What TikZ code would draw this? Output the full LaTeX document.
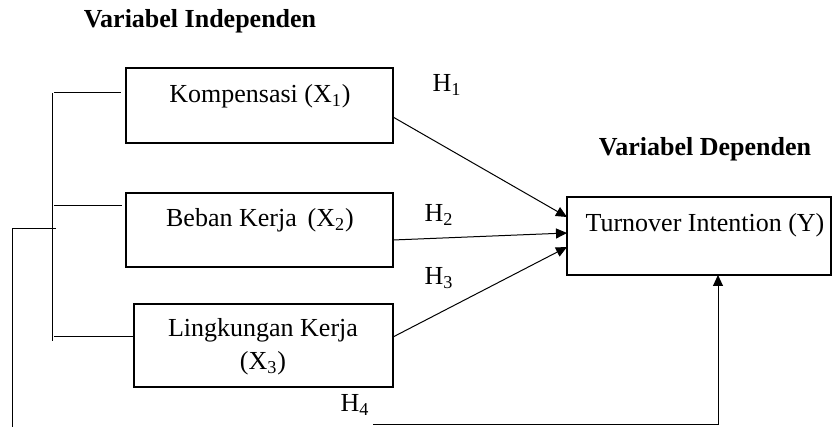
\documentclass[tikz,border=0pt]{standalone}
\usepackage{fontspec}
\setmainfont{Liberation Serif}
\usetikzlibrary{arrows.meta,calc,positioning}

\begin{document}
\begin{tikzpicture}[x=0.5pt,y=-0.5pt,>={Triangle[length=5.5pt,width=5pt]},
  varbox/.style={draw,line width=0.65pt,inner sep=0pt,outer sep=0pt},
  vartext/.style={anchor=base,inner sep=0pt,font=\fontsize{13}{16}\selectfont},
  judul/.style={anchor=base,inner sep=0pt,font=\fontsize{13}{16}\selectfont\bfseries},
  garis/.style={line width=0.5pt}]
  \useasboundingbox (0,0) rectangle (832,427);
  \node[judul] (indep) at (200,28) {Variabel Independen};
  \node[judul] (dep) at (705,156) {Variabel Dependen};
  \node[varbox,minimum width=133.5pt,minimum height=37.5pt] (x1) at (259.5,105.5) {};
  \node[varbox,minimum width=133.5pt,minimum height=37pt] (x2) at (259.5,230) {};
  \node[varbox,minimum width=129.5pt,minimum height=41.5pt] (x3) at (263.5,345.5) {};
  \node[varbox,minimum width=132pt,minimum height=39pt] (y) at (699,236) {};
  \node[vartext] (tx1) at (260,103) {Kompensasi (X\textsubscript{1})};
  \node[vartext] (tx2) at (260,227) {Beban Kerja\, (X\textsubscript{2})};
  \node[vartext] (tx3a) at (263,337) {Lingkungan Kerja};
  \node[vartext] (tx3b) at (263,370) {(X\textsubscript{3})};
  \node[vartext] (ty) at (705,232) {Turnover Intention (Y)};
  \node[vartext] (h1) at (447,92) {H\textsubscript{1}};
  \node[vartext] (h2) at (439,222) {H\textsubscript{2}};
  \node[vartext] (h3) at (439,285) {H\textsubscript{3}};
  \node[vartext] (h4) at (355,412) {H\textsubscript{4}};
  \draw[garis,->] ([yshift=-5.75pt]x1.east) -- ([yshift=9.5pt]y.west);
  \draw[garis,->] ([yshift=-5pt]x2.east) -- ([yshift=1.5pt]y.west);
  \draw[garis,->] ([yshift=4.25pt]x3.east) -- ([yshift=-5.5pt]y.west);
  \coordinate (brtop) at (52,93);
  \coordinate (brbot) at (52,341);
  \coordinate (br2) at (54,206);
  \coordinate (brmid) at (56,229);
  \coordinate (outtop) at (12,229);
  \coordinate (outbot) at (12,427);
  \coordinate (h4start) at (373,425);
  \draw[garis] (brtop) -- (brbot);
  \draw[garis] (54,93) -- (121,93);
  \draw[garis] (br2) -- (122,206);
  \draw[garis] (54,337) -- (x3.west |- 0,337);
  \draw[garis] (outtop) -- (brmid);
  \draw[garis] (outtop) -- (outbot);
  \draw[garis,->] (h4start) -| ([xshift=9.5pt]y.south);
\end{tikzpicture}
\end{document}
